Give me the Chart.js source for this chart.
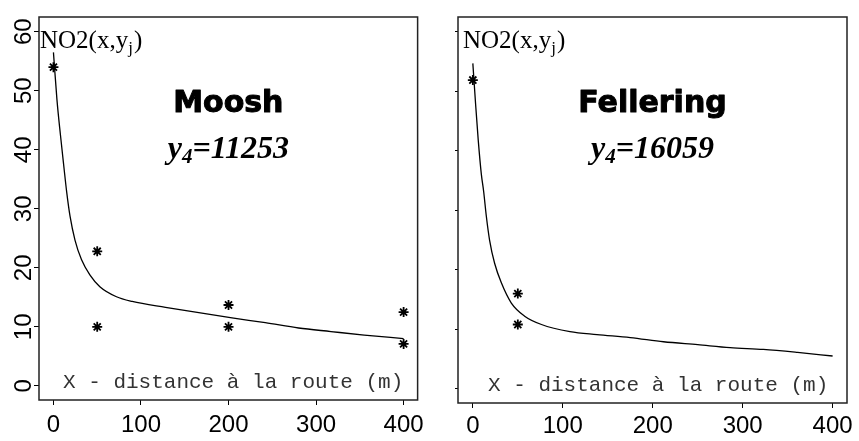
<!DOCTYPE html>
<html>
<head>
<meta charset="utf-8">
<script src="https://cdn.jsdelivr.net/npm/chart.js@4.4.0/dist/chart.umd.min.js"></script>
<style>
    body { margin: 0; background: #fff; }
    .panel { position: absolute; top: 0; height: 441px; }
    #left { left: 0; width: 430px; }
    #right { left: 430px; width: 429px; }
</style>
</head>
<body>
<div class="panel" id="left"><canvas id="moosh-chart" width="430" height="441"></canvas></div>
<div class="panel" id="right"><canvas id="fellering-chart" width="429" height="441"></canvas></div>
<script>
const xTicks = [0, 100, 200, 300, 400];
const yTicks = [0, 10, 20, 30, 40, 50, 60];
const xLabel = 'X - distance à la route (m)';

// Moosh: measured points and fitted curve
const mooshX = [0, 50, 50, 200, 200, 400, 400];
const mooshNO2 = [54, 22.8, 10, 13.7, 10, 12.5, 7.1];
const mooshFitX = [0, 4, 8, 12, 15, 19, 24.6, 32, 41.6, 53, 72, 90, 128, 166, 204, 242, 280, 317, 355, 400];
const mooshFitNO2 = [56.5, 48.5, 42.5, 37, 33, 28.7, 24.7, 21.4, 18.8, 16.8, 15.1, 14.3, 13.3, 12.4, 11.5, 10.7, 9.8, 9.2, 8.6, 8.0];

// Fellering: measured points and fitted curve
const felleringX = [0, 50, 50];
const felleringNO2 = [51.9, 16, 10.8];
const felleringFitX = [0, 3, 6, 9.5, 12, 15, 18.6, 24.2, 31.7, 42.8, 57.6, 76.3, 108, 138, 175, 212, 250, 286, 323, 361, 400];
const felleringFitNO2 = [54.7, 48, 41.8, 36, 33.2, 29, 25, 21.1, 17.8, 14.4, 12.2, 10.8, 9.6, 9.1, 8.6, 7.9, 7.4, 6.9, 6.6, 6.1, 5.5];

const toPoints = (xs, ys) => xs.map((x, i) => ({ x: x, y: ys[i] }));

const panelText = {
    id: 'panelText',
    afterDraw(chart, args, opts) {
        const { ctx, chartArea: a } = chart;
        ctx.save();
        ctx.strokeStyle = '#222';
        ctx.lineWidth = 1.5;
        ctx.strokeRect(a.left, a.top, a.right - a.left, a.bottom - a.top);

        ctx.fillStyle = '#000';
        ctx.textBaseline = 'alphabetic';
        ctx.textAlign = 'left';

        // NO2(x,yj)
        const serif = '"Liberation Serif", "Times New Roman", serif';
        let x = a.left + opts.no2Dx;
        let y = a.top + 31;
        ctx.font = '25px ' + serif;
        ctx.fillText('NO2(x,y', x, y);
        x += ctx.measureText('NO2(x,y').width;
        ctx.font = '17px ' + serif;
        ctx.fillText('j', x, y + 5);
        x += ctx.measureText('j').width + 1;
        ctx.font = '25px ' + serif;
        ctx.fillText(')', x, y);

        // site name, heavy
        const cx = (a.left + a.right) / 2;
        ctx.textAlign = 'center';
        ctx.font = 'bold 30px "DejaVu Sans", sans-serif';
        ctx.strokeStyle = '#000';
        ctx.lineWidth = 1;
        ctx.lineJoin = 'round';
        ctx.strokeText(opts.site, cx, a.top + 95);
        ctx.fillText(opts.site, cx, a.top + 95);

        // y4=value
        ctx.textAlign = 'left';
        const big = 'italic bold 32px ' + serif;
        const small = 'italic bold 21px ' + serif;
        ctx.font = big;
        const w1 = ctx.measureText('y').width;
        const w3 = ctx.measureText('=' + opts.y4).width;
        ctx.font = small;
        const w2 = ctx.measureText('4').width;
        let sx = cx - (w1 + w2 + w3) / 2;
        const sy = a.top + 141;
        ctx.font = big;
        ctx.fillText('y', sx, sy);
        ctx.font = small;
        ctx.fillText('4', sx + w1, sy + 5);
        ctx.font = big;
        ctx.fillText('=' + opts.y4, sx + w1 + w2, sy);

        // x axis title inside the box
        ctx.fillStyle = '#333';
        ctx.font = '21px "Liberation Mono", "Courier New", monospace';
        ctx.fillText(xLabel, a.left + opts.xLabelDx, a.bottom - 12);
        ctx.restore();
    }
};

function makeChart(canvasId, xs, ys, fitX, fitY, p) {
    return new Chart(document.getElementById(canvasId), {
        type: 'scatter',
        data: {
            datasets: [{
                data: toPoints(fitX, fitY),
                showLine: true,
                pointRadius: 0,
                borderColor: '#000',
                borderWidth: 1.3,
                cubicInterpolationMode: 'monotone'
            }, {
                data: toPoints(xs, ys),
                pointStyle: 'star',
                pointRadius: 5,
                borderColor: '#000',
                borderWidth: 1.8
            }]
        },
        options: {
            responsive: false,
            animation: false,
            layout: { padding: { left: 0, top: 17, right: p.padRight, bottom: 0 } },
            plugins: {
                legend: { display: false },
                tooltip: { enabled: false },
                panelText: { site: p.site, y4: p.y4, no2Dx: p.no2Dx, xLabelDx: p.xLabelDx }
            },
            scales: {
                x: {
                    type: 'linear',
                    min: -16.5,
                    max: 416,
                    afterBuildTicks: s => { s.ticks = xTicks.map(v => ({ value: v })); },
                    afterFit: s => { s.height = p.xHeight; },
                    grid: { display: true, drawOnChartArea: false, tickLength: 5, color: '#000' },
                    border: { display: false },
                    ticks: {
                        color: '#000',
                        padding: p.xPad,
                        autoSkip: false,
                        maxRotation: 0,
                        font: { family: '"Liberation Sans", Arial, sans-serif', size: 24 }
                    }
                },
                y: {
                    type: 'linear',
                    min: -2.4,
                    max: 62.5,
                    afterBuildTicks: s => { s.ticks = yTicks.map(v => ({ value: v })); },
                    afterFit: s => { s.width = p.yWidth; },
                    grid: { display: true, drawOnChartArea: false, tickLength: p.yTickLen, color: '#000' },
                    border: { display: false },
                    ticks: {
                        display: p.yLabels,
                        color: '#000',
                        padding: -4,
                        autoSkip: false,
                        minRotation: 90,
                        maxRotation: 90,
                        crossAlign: 'center',
                        font: { family: '"Liberation Sans", Arial, sans-serif', size: 24 }
                    }
                }
            }
        },
        plugins: [panelText]
    });
}

makeChart('moosh-chart', mooshX, mooshNO2, mooshFitX, mooshFitNO2, {
    site: 'Moosh', y4: '11253', no2Dx: 1, xLabelDx: 24,
    padRight: 10, xHeight: 41, xPad: 6, yWidth: 39, yTickLen: 5, yLabels: true
});

makeChart('fellering-chart', felleringX, felleringNO2, felleringFitX, felleringFitNO2, {
    site: 'Fellering', y4: '16059', no2Dx: 5, xLabelDx: 30,
    padRight: 12, xHeight: 38, xPad: 4, yWidth: 28, yTickLen: 3, yLabels: false
});
</script>
</body>
</html>
